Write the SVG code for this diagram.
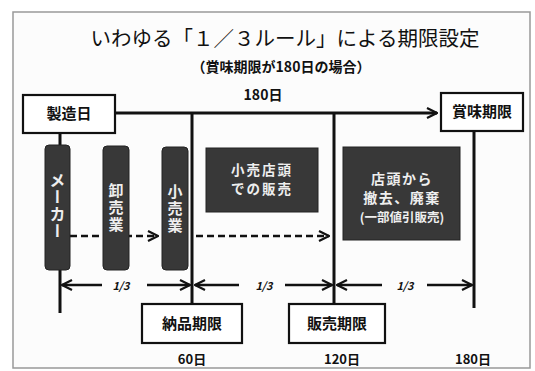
<svg xmlns="http://www.w3.org/2000/svg" width="535" height="371" viewBox="0 0 535 371">
<defs>
<marker id="open" viewBox="0 0 12 12" refX="11" refY="6" markerWidth="12" markerHeight="12" markerUnits="userSpaceOnUse" orient="auto-start-reverse">
<path d="M1,1 L11,6 L1,11" fill="none" stroke="#111" stroke-width="2.2"/>
</marker>
</defs>
<style>
text{font-family:"Noto Sans CJK JP","Noto Sans",sans-serif;fill:#111}
.b{font-weight:bold}
.box{fill:#fff;stroke:#111;stroke-width:2.2}
.dark{fill:#383838;stroke:#222;stroke-width:1}
.wt{fill:#eeeeee;font-weight:bold}
.ln{stroke:#111;stroke-width:3;fill:none}
.ar{stroke:#111;stroke-width:2.5;fill:none}
.dash{stroke:#111;stroke-width:2.5;fill:none;stroke-dasharray:7,4}
</style>
<rect x="0" y="0" width="535" height="371" fill="#fff"/>
<rect x="13" y="12" width="517" height="356" fill="#fcfcfc" stroke="#999" stroke-width="1.5"/>
<text x="285" y="46" font-size="20.5" text-anchor="middle">いわゆる「１／３ルール」による期限設定</text>
<text x="281" y="72" font-size="14" text-anchor="middle" class="b">（賞味期限が180日の場合）</text>
<text x="263" y="100" font-size="14" text-anchor="middle" class="b">180日</text>
<g id="connectors">
<line class="ln" x1="115" y1="113" x2="437" y2="113" marker-end="url(#open)"/>
<line class="ln" x1="60" y1="133" x2="60" y2="313"/>
<line class="ln" x1="192" y1="113" x2="192" y2="304"/>
<line class="ln" x1="334" y1="113" x2="334" y2="304"/>
<line class="ln" x1="474" y1="131" x2="474" y2="308"/>
<line class="dash" x1="70" y1="236" x2="158" y2="236" marker-end="url(#open)"/>
<line class="dash" x1="196" y1="236" x2="329" y2="236" marker-end="url(#open)"/>
<line class="ar" x1="102" y1="285" x2="62" y2="285" marker-end="url(#open)"/>
<line class="ar" x1="147" y1="285" x2="190" y2="285" marker-end="url(#open)"/>
<line class="ar" x1="239" y1="285" x2="195" y2="285" marker-end="url(#open)"/>
<line class="ar" x1="285" y1="285" x2="332" y2="285" marker-end="url(#open)"/>
<line class="ar" x1="382" y1="285" x2="337" y2="285" marker-end="url(#open)"/>
<line class="ar" x1="427" y1="285" x2="472" y2="285" marker-end="url(#open)"/>
</g>
<text x="121" y="290" font-size="11" text-anchor="middle" class="b" font-style="italic">1/3</text>
<text x="264" y="290" font-size="11" text-anchor="middle" class="b" font-style="italic">1/3</text>
<text x="405" y="290" font-size="11" text-anchor="middle" class="b" font-style="italic">1/3</text>
<g id="seizoubi">
<rect class="box" x="23" y="95" width="92" height="38"/>
<text x="69" y="119" font-size="15" text-anchor="middle" class="b">製造日</text>
</g>
<g id="shoumi">
<rect class="box" x="441" y="93" width="82" height="38"/>
<text x="482" y="117" font-size="15" text-anchor="middle" class="b">賞味期限</text>
</g>
<g id="maker">
<rect class="dark" x="45" y="145" width="25" height="125" rx="4"/>
<text x="57.5" y="172" font-size="16" class="wt" writing-mode="vertical-rl" letter-spacing="1">メーカー</text>
</g>
<g id="oroshi">
<rect class="dark" x="103" y="146" width="26" height="124" rx="4"/>
<text x="116" y="183" font-size="15" class="wt" writing-mode="vertical-rl" letter-spacing="2">卸売業</text>
</g>
<g id="kouri">
<rect class="dark" x="162" y="147" width="26" height="123" rx="4"/>
<text x="175" y="184" font-size="15" class="wt" writing-mode="vertical-rl" letter-spacing="2">小売業</text>
</g>
<g id="tentou">
<rect class="dark" x="206" y="148" width="112" height="64"/>
<text x="262" y="175" font-size="13.5" class="wt" text-anchor="middle" letter-spacing="2">小売店頭</text>
<text x="262" y="194" font-size="13.5" class="wt" text-anchor="middle" letter-spacing="2">での販売</text>
</g>
<g id="tekkyo">
<rect class="dark" x="343" y="147" width="117" height="93"/>
<text x="402" y="184" font-size="14" class="wt" text-anchor="middle" letter-spacing="1.5">店頭から</text>
<text x="402" y="203" font-size="14" class="wt" text-anchor="middle" letter-spacing="1.5">撤去、廃棄</text>
<text x="402" y="222" font-size="12.5" class="wt" text-anchor="middle">(一部値引販売)</text>
</g>
<g id="nouhin">
<rect class="box" x="142" y="304" width="100" height="39"/>
<text x="192" y="329" font-size="15" text-anchor="middle" class="b">納品期限</text>
</g>
<g id="hanbai">
<rect class="box" x="289" y="304" width="96" height="39"/>
<text x="337" y="329" font-size="15" text-anchor="middle" class="b">販売期限</text>
</g>
<text x="192" y="364" font-size="13" text-anchor="middle" class="b">60日</text>
<text x="342" y="364" font-size="13" text-anchor="middle" class="b">120日</text>
<text x="473" y="364" font-size="13" text-anchor="middle" class="b">180日</text>
</svg>
